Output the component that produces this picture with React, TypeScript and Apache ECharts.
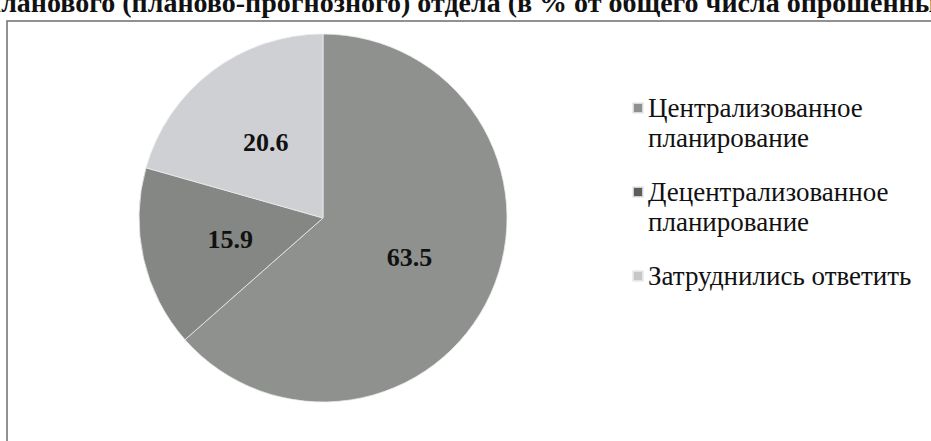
import React, { useEffect, useRef } from "react";
import * as echarts from "echarts";

const categories = [
  "Централизованное\nпланирование",
  "Децентрализованное\nпланирование",
  "Затруднились ответить",
];
const values = [63.5, 15.9, 20.6];
const sliceColors = ["#8e918e", "#848784", "#cfd0d3"];
const legendColors = ["#8e918e", "#5c5e5c", "#c6c8c8"];
const legendTops = [63, 147, 261];
const captionText =
  "планового (планово-прогнозного) отдела (в % от общего числа опрошенных)";

export default function App() {
  const ref = useRef<HTMLDivElement>(null);
  useEffect(() => {
    if (!ref.current) return;
    const chart = echarts.init(ref.current, null, { renderer: "svg" });
    const serif = "Liberation Serif";
    const legendText = {
      fontFamily: serif,
      fontSize: 27,
      lineHeight: 30,
      color: "#111",
    };
    const legends = categories.map((name, i) => ({
      orient: "vertical",
      left: 632,
      top: legendTops[i],
      padding: 0,
      icon: "rect",
      itemWidth: 10,
      itemHeight: 10,
      itemGap: 0,
      selectedMode: false,
      formatter: (n: string) =>
        n
          .split("\n")
          .map((s) => `{t|${s}}`)
          .join("\n"),
      data: [
        {
          name,
          itemStyle: { color: legendColors[i] },
          textStyle: {
            ...legendText,
            padding: name.includes("\n") ? [30, 0, 0, 0] : 0,
          },
        },
      ],
      textStyle: {
        ...legendText,
        rich: { t: { ...legendText } },
      },
    }));
    chart.setOption({
      animation: false,
      backgroundColor: "#ffffff",
      textStyle: { fontFamily: serif },
      graphic: [
        {
          type: "rect",
          shape: { x: 7, y: 21, width: 960, height: 460 },
          style: { fill: "none", stroke: "#6e6e6e", lineWidth: 1.5 },
          silent: true,
        },
        {
          type: "text",
          x: -15,
          y: 2,
          style: {
            text: captionText,
            fontFamily: serif,
            fontWeight: "bold",
            fontSize: 28,
            fill: "#111",
            verticalAlign: "middle",
          },
          silent: true,
        },
      ],
      legend: legends,
      series: [
        {
          type: "pie",
          center: [323, 218],
          radius: 184,
          startAngle: 90,
          clockwise: true,
          data: categories.map((name, i) => ({
            name,
            value: values[i],
            itemStyle: { color: sliceColors[i] },
          })),
          itemStyle: { borderColor: "rgba(235,235,235,0.8)", borderWidth: 1 },
          label: {
            show: true,
            position: "inside",
            formatter: (p: any) => p.value.toFixed(1),
            fontFamily: serif,
            fontWeight: "bold",
            fontSize: 26,
            color: "#111",
          },
          labelLine: { show: false },
          emphasis: { disabled: true },
        },
      ],
    });
    return () => chart.dispose();
  }, []);
  return (
    <div
      ref={ref}
      style={{ position: "absolute", left: 0, top: 0, width: 931, height: 441 }}
    />
  );
}
